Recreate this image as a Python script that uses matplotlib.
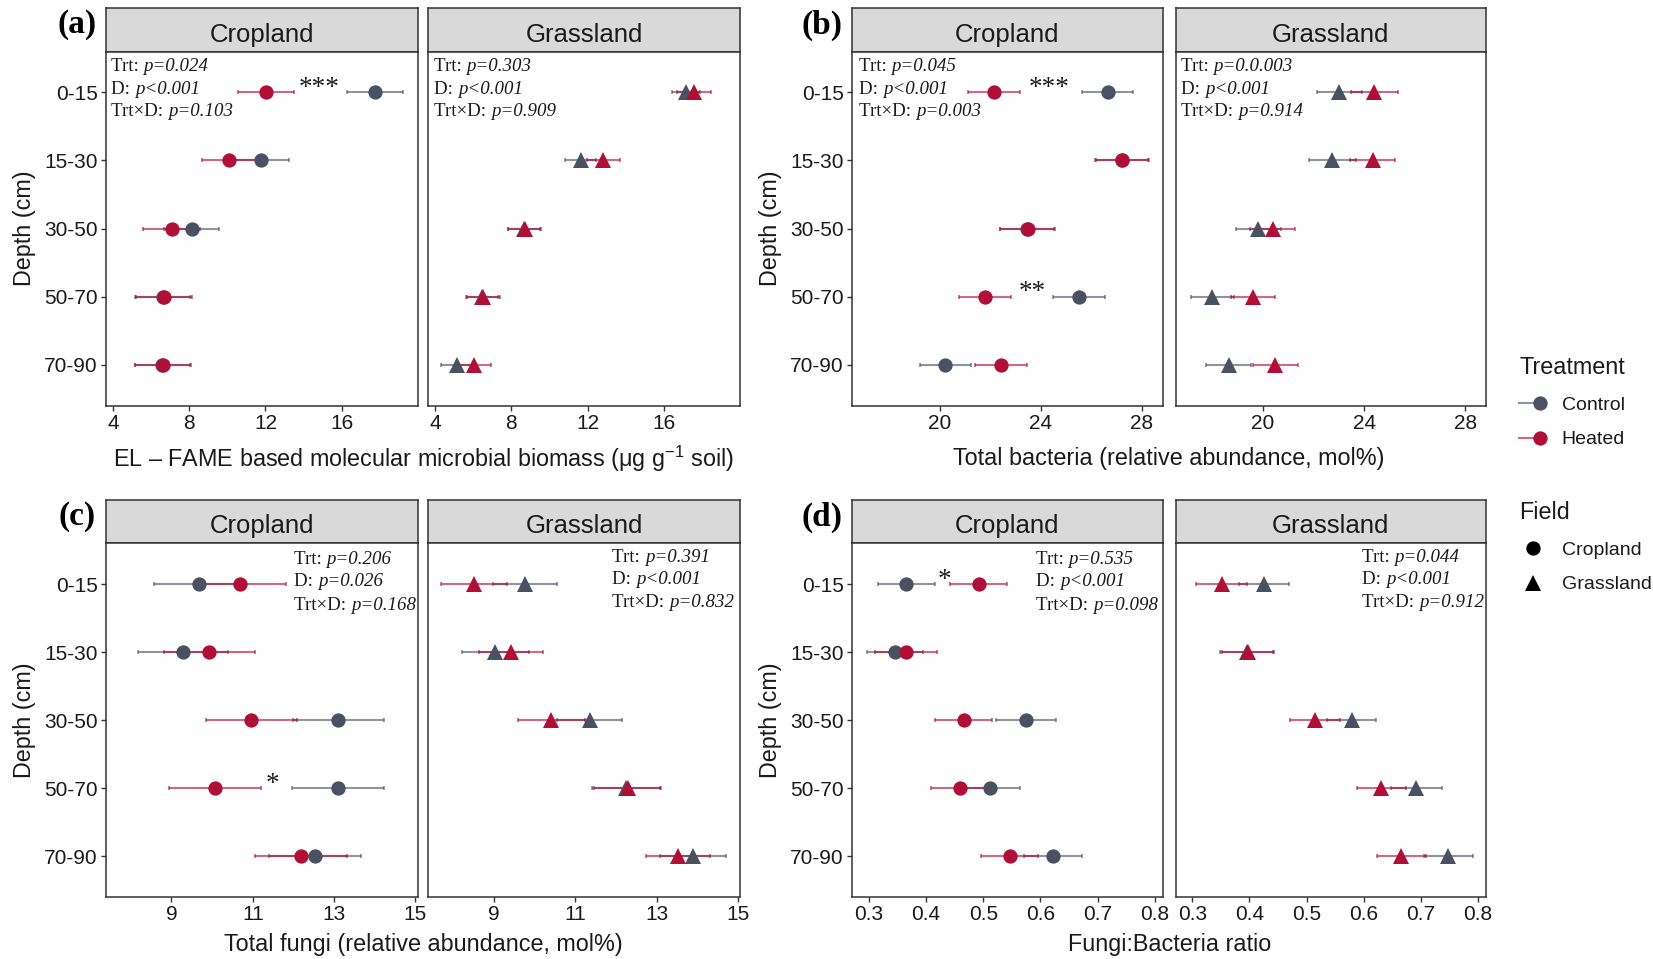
import matplotlib
matplotlib.use("Agg")
import matplotlib.pyplot as plt
from matplotlib.lines import Line2D
from matplotlib.legend_handler import HandlerTuple

plt.rcParams['font.family'] = ['Liberation Sans', 'DejaVu Sans']
plt.rcParams['mathtext.fontset'] = 'custom'
plt.rcParams['mathtext.rm'] = 'Liberation Sans'
plt.rcParams['mathtext.it'] = 'Liberation Sans:italic'

W, H, DPI = 1653, 959, 100

# ---------------- data ----------------
depths = ['0-15', '15-30', '30-50', '50-70', '70-90']
fields = ['Cropland', 'Grassland']
treatments = ['Control', 'Heated']

# (a) EL-FAME biomass
bio_crop_ctrl = [17.75, 11.78, 8.13, 6.60, 6.58]
bio_crop_ctrl_se = [1.47, 1.47, 1.45, 1.45, 1.45]
bio_crop_heat = [12.03, 10.08, 7.08, 6.65, 6.63]
bio_crop_heat_se = [1.47, 1.43, 1.50, 1.47, 1.47]
bio_grass_ctrl = [17.15, 11.64, 8.65, 6.45, 5.15]
bio_grass_ctrl_se = [0.75, 0.82, 0.85, 0.85, 0.85]
bio_grass_heat = [17.58, 12.82, 8.69, 6.53, 6.05]
bio_grass_heat_se = [0.90, 0.85, 0.88, 0.88, 0.88]

# (b) total bacteria
bac_crop_ctrl = [26.64, 27.20, 23.45, 25.52, 20.23]
bac_crop_ctrl_se = [1.00, 1.05, 1.08, 1.02, 1.01]
bac_crop_heat = [22.14, 27.23, 23.48, 21.80, 22.43]
bac_crop_heat_se = [1.02, 1.05, 1.08, 1.02, 1.02]
bac_grass_ctrl = [23.02, 22.75, 19.82, 18.00, 18.64]
bac_grass_ctrl_se = [0.90, 0.93, 0.89, 0.86, 0.89]
bac_grass_heat = [24.41, 24.34, 20.39, 19.61, 20.48]
bac_grass_heat_se = [0.93, 0.90, 0.89, 0.86, 0.89]

# (c) total fungi
fun_crop_ctrl = [9.67, 9.29, 13.10, 13.10, 12.52]
fun_crop_ctrl_se = [1.10, 1.11, 1.12, 1.13, 1.13]
fun_crop_heat = [10.68, 9.93, 10.96, 10.06, 12.18]
fun_crop_heat_se = [1.13, 1.12, 1.12, 1.13, 1.13]
fun_grass_ctrl = [9.77, 9.04, 11.36, 12.25, 13.90]
fun_grass_ctrl_se = [0.78, 0.82, 0.80, 0.83, 0.81]
fun_grass_heat = [8.52, 9.43, 10.42, 12.29, 13.53]
fun_grass_heat_se = [0.82, 0.78, 0.83, 0.83, 0.79]

# (d) fungi:bacteria ratio
fb_crop_ctrl = [0.365, 0.345, 0.575, 0.512, 0.622]
fb_crop_ctrl_se = [0.050, 0.049, 0.052, 0.052, 0.050]
fb_crop_heat = [0.492, 0.365, 0.466, 0.459, 0.546]
fb_crop_heat_se = [0.050, 0.054, 0.050, 0.050, 0.050]
fb_grass_ctrl = [0.425, 0.395, 0.579, 0.692, 0.748]
fb_grass_ctrl_se = [0.044, 0.046, 0.043, 0.045, 0.043]
fb_grass_heat = [0.351, 0.397, 0.515, 0.631, 0.666]
fb_grass_heat_se = [0.045, 0.046, 0.044, 0.043, 0.043]

# statistics text
p_labels = ['Trt: ', 'D: ', 'Trt\u00d7D: ']
p_a_crop = ['p=0.024', 'p<0.001', 'p=0.103']
p_a_grass = ['p=0.303', 'p<0.001', 'p=0.909']
p_b_crop = ['p=0.045', 'p<0.001', 'p=0.003']
p_b_grass = ['p=0.0.003', 'p<0.001', 'p=0.914']
p_c_crop = ['p=0.206', 'p=0.026', 'p=0.168']
p_c_grass = ['p=0.391', 'p<0.001', 'p=0.832']
p_d_crop = ['p=0.535', 'p<0.001', 'p=0.098']
p_d_grass = ['p=0.044', 'p<0.001', 'p=0.912']

# significance marks (field, depth index, x position, label)
stars_a = [('Cropland', 0, 14.8, '***')]
stars_b = [('Cropland', 0, 24.33, '***'), ('Cropland', 3, 23.66, '**')]
stars_c = [('Cropland', 3, 11.48, '*')]
stars_d = [('Cropland', 0, 0.433, '*')]

xlabel_a = 'EL \u2013 FAME based molecular microbial biomass (\u03bcg g$^{\u22121}$ soil)'
xlabel_b = 'Total bacteria (relative abundance, mol%)'
xlabel_c = 'Total fungi (relative abundance, mol%)'
xlabel_d = 'Fungi:Bacteria ratio'

# ---------------- style ----------------
C_CTRL = '#4a5262'
C_HEAT = '#b01038'
EDGE = '#333333'
TXT = '#1a1a1a'
MARK = {'Cropland': 'o', 'Grassland': '^'}
MS = {'Cropland': 10.3, 'Grassland': 11.2}

TOP_ROWS = (8.4, 51.6, 405.5)
BOT_ROWS = (499.5, 543.3, 897)
LEFT_COLS = [(106, 417.5), (428, 740)]
RIGHT_COLS = [(852.3, 1162.7), (1175.7, 1486)]

PANELS = [
    dict(tag='(a)', tag_xy=(77, 25), cols=LEFT_COLS, rows=TOP_ROWS,
         xlim=(3.63, 19.98), xticks=[4, 8, 12, 16], xlabel=xlabel_a, xlabel_y=459, ylabel_x=25,
         data={'Cropland': (bio_crop_ctrl, bio_crop_ctrl_se, bio_crop_heat, bio_crop_heat_se),
               'Grassland': (bio_grass_ctrl, bio_grass_ctrl_se, bio_grass_heat, bio_grass_heat_se)},
         pv={'Cropland': p_a_crop, 'Grassland': p_a_grass},
         ppos={'Cropland': (111, [66.7, 89.5, 111.7]), 'Grassland': (434, [66.7, 89.5, 111.7])},
         stars=stars_a),
    dict(tag='(b)', tag_xy=(822, 25), cols=RIGHT_COLS, rows=TOP_ROWS,
         xlim=(16.55, 28.82), xticks=[20, 24, 28], xlabel=xlabel_b, xlabel_y=459, ylabel_x=771,
         data={'Cropland': (bac_crop_ctrl, bac_crop_ctrl_se, bac_crop_heat, bac_crop_heat_se),
               'Grassland': (bac_grass_ctrl, bac_grass_ctrl_se, bac_grass_heat, bac_grass_heat_se)},
         pv={'Cropland': p_b_crop, 'Grassland': p_b_grass},
         ppos={'Cropland': (859, [66.7, 89.5, 111.7]), 'Grassland': (1181, [66.7, 89.5, 111.7])},
         stars=stars_b),
    dict(tag='(c)', tag_xy=(77, 517), cols=LEFT_COLS, rows=BOT_ROWS,
         xlim=(7.39, 15.05), xticks=[9, 11, 13, 15], xlabel=xlabel_c, xlabel_y=945, ylabel_x=25,
         data={'Cropland': (fun_crop_ctrl, fun_crop_ctrl_se, fun_crop_heat, fun_crop_heat_se),
               'Grassland': (fun_grass_ctrl, fun_grass_ctrl_se, fun_grass_heat, fun_grass_heat_se)},
         pv={'Cropland': p_c_crop, 'Grassland': p_c_grass},
         ppos={'Cropland': (294, [559.3, 581.9, 605]), 'Grassland': (612.5, [557.3, 580, 602.7])},
         stars=stars_c),
    dict(tag='(d)', tag_xy=(822, 517), cols=RIGHT_COLS, rows=BOT_ROWS,
         xlim=(0.2708, 0.8141), xticks=[0.3, 0.4, 0.5, 0.6, 0.7, 0.8], xlabel=xlabel_d, xlabel_y=945,
         ylabel_x=771,
         data={'Cropland': (fb_crop_ctrl, fb_crop_ctrl_se, fb_crop_heat, fb_crop_heat_se),
               'Grassland': (fb_grass_ctrl, fb_grass_ctrl_se, fb_grass_heat, fb_grass_heat_se)},
         pv={'Cropland': p_d_crop, 'Grassland': p_d_grass},
         ppos={'Cropland': (1036, [559.3, 581.9, 605]), 'Grassland': (1362, [557.3, 580, 602.7])},
         stars=stars_d),
]

fig = plt.figure(figsize=(W / DPI, H / DPI), dpi=DPI)
fig.patch.set_facecolor('white')


def add_axes(x0, x1, y0, y1):
    return fig.add_axes([x0 / W, 1 - y1 / H, (x1 - x0) / W, (y1 - y0) / H])


ypos = list(range(len(depths)))

for P in PANELS:
    st_top, pl_top, pl_bot = P['rows']
    for j, (field, (x0, x1)) in enumerate(zip(fields, P['cols'])):
        # strip
        sax = add_axes(x0, x1, st_top, pl_top)
        sax.set_facecolor('#d9d9d9')
        sax.set_xticks([]); sax.set_yticks([])
        for s in sax.spines.values():
            s.set_color(EDGE); s.set_linewidth(1.1)
        sax.text(0.5, 0.23, field, transform=sax.transAxes, ha='center', va='baseline',
                 fontsize=18.5, color=TXT)

        ax = add_axes(x0, x1, pl_top, pl_bot)
        ctrl, ctrl_se, heat, heat_se = P['data'][field]
        for vals, se, col in ((ctrl, ctrl_se, C_CTRL), (heat, heat_se, C_HEAT)):
            ax.errorbar(vals, ypos, xerr=se, fmt='none', ecolor=col, alpha=0.62,
                        elinewidth=1.5, capsize=1.6, capthick=1.3, zorder=2)
        for vals, col in ((ctrl, C_CTRL), (heat, C_HEAT)):
            ax.plot(vals, ypos, ls='none', marker=MARK[field], color=col,
                    ms=MS[field], mew=0, zorder=3)

        ax.set_xlim(*P['xlim'])
        ax.set_ylim(len(depths) - 0.4, -0.6)
        ax.set_xticks(P['xticks'])
        ax.set_xticklabels([('%g' % t) for t in P['xticks']])
        if j == 0:
            ax.set_yticks(ypos)
            ax.set_yticklabels(depths)
        else:
            ax.set_yticks([])
        ax.tick_params(axis='both', length=3.6, width=1.0, color=EDGE, labelsize=15,
                       labelcolor=TXT, pad=2.5)
        for s in ax.spines.values():
            s.set_color(EDGE); s.set_linewidth(1.1)

        # significance stars
        for f, di, xs, lab in P['stars']:
            if f == field:
                ax.text(xs, ypos[di] - 0.06, lab, ha='center', va='center', fontsize=19.5,
                        family='Liberation Serif', color=TXT)

        # statistics text
        px, pys = P['ppos'][field]
        for lab, val, py in zip(p_labels, P['pv'][field], pys):
            t1 = fig.text(px / W, 1 - py / H, lab, ha='left', va='center', fontsize=13.6,
                          family='Liberation Serif', color=TXT)
            ax.annotate(val, xy=(1, 0), xycoords=t1, ha='left', va='bottom', fontsize=13.6,
                        family='Liberation Serif', style='italic', color=TXT,
                        annotation_clip=False)

    # shared labels
    cx = (P['cols'][0][0] + P['cols'][1][1]) / 2
    fig.text(cx / W, 1 - P['xlabel_y'] / H, P['xlabel'], ha='center', va='center',
             fontsize=16.8, color=TXT)
    cy = (pl_top + pl_bot) / 2
    fig.text(P['ylabel_x'] / W, 1 - cy / H, 'Depth (cm)', rotation=90, ha='center',
             va='center', fontsize=16.8, color=TXT)
    fig.text(P['tag_xy'][0] / W, 1 - P['tag_xy'][1] / H, P['tag'], ha='center', va='center',
             fontsize=24, weight='bold', family='Liberation Serif', color='black')

# legends
h_ctrl = (Line2D([], [], color=C_CTRL, alpha=0.62, lw=1.5),
          Line2D([], [], ls='none', marker='o', color=C_CTRL, ms=10.3, mew=0))
h_heat = (Line2D([], [], color=C_HEAT, alpha=0.62, lw=1.5),
          Line2D([], [], ls='none', marker='o', color=C_HEAT, ms=10.3, mew=0))
common = dict(loc='upper left', frameon=False, fontsize=14, title_fontsize=16.8,
              handlelength=1.45, handletextpad=0.75, labelspacing=0.88,
              borderpad=0, borderaxespad=0, alignment='left')
leg1 = fig.legend([h_ctrl, h_heat], treatments, title='Treatment',
                  bbox_to_anchor=(1519 / W, 1 - 356 / H),
                  handler_map={tuple: HandlerTuple(ndivide=None)}, **common)
h_crop = Line2D([], [], ls='none', marker='o', color='black', ms=10.3, mew=0)
h_grass = Line2D([], [], ls='none', marker='^', color='black', ms=11.2, mew=0)
leg2 = fig.legend([h_crop, h_grass], fields, title='Field',
                  bbox_to_anchor=(1519 / W, 1 - 501 / H), **common)
for lg in (leg1, leg2):
    for t in lg.get_texts():
        t.set_color(TXT)
    lg.get_title().set_color(TXT)

fig.savefig('out.png', dpi=DPI)
